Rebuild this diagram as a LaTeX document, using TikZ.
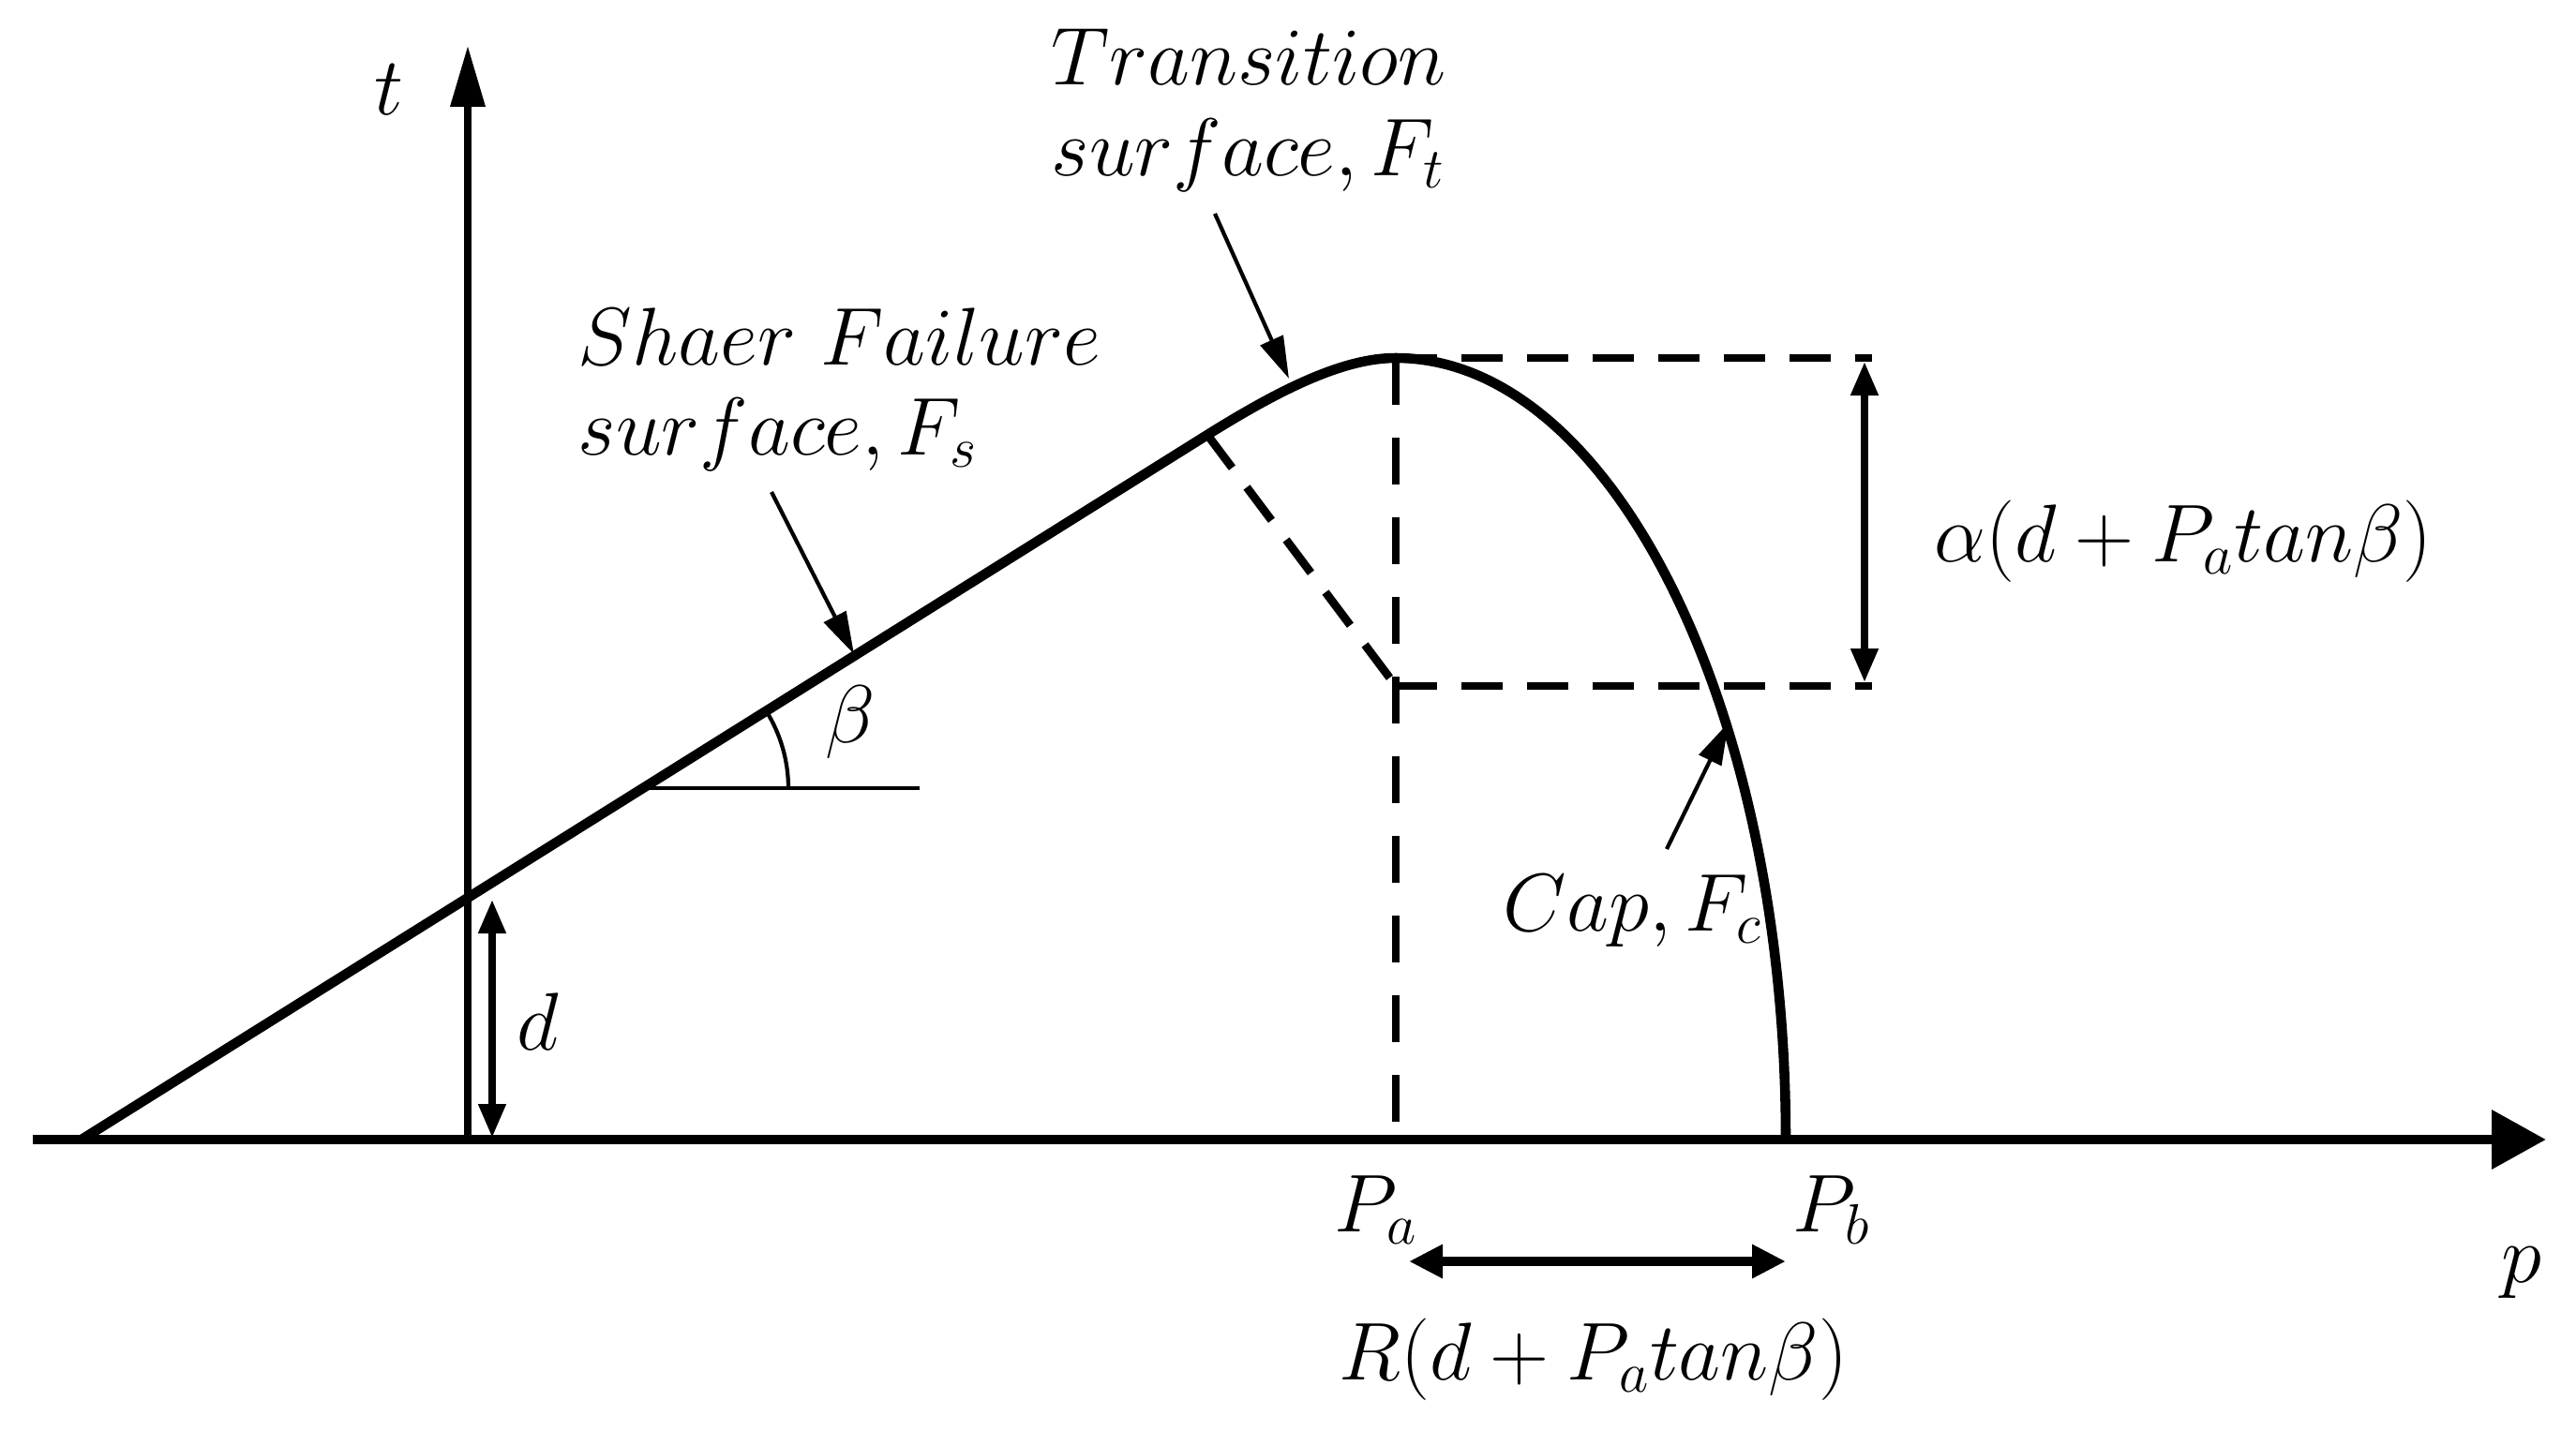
\documentclass[tikz,border=0pt]{standalone}
\usepackage{pgf,tikz}
\usetikzlibrary{arrows.meta}

\begin{document}
\begin{tikzpicture}[line cap=butt,line join=round,>={Triangle[length=3.6mm,width=2.8mm]},
  lbl/.style={font=\fontsize{25}{30}\selectfont,inner sep=0pt},
  thick axis/.style={line width=3pt},
  curve/.style={line width=3pt},
  dash box/.style={line width=2.5pt,dash pattern=on 0.44cm off 0.26cm},
  callout/.style={line width=1.2pt,-{Triangle[length=4.5mm,width=2.6mm]}}]
\useasboundingbox (-4.99,-3.10) rectangle (22.49,12.16);
% axes
\coordinate (O) at (0,0);
\coordinate (pl) at (-4.64,0);
\coordinate (pr) at (22.17,0);
\coordinate (tt) at (0,11.67);
\draw[thick axis,-{Triangle[length=5.8mm,width=6.1mm]}] (pl) -- (pr);
\draw[line width=2pt,-{Triangle[length=6.5mm,width=3.6mm]}] (O) -- (tt);
% yield surfaces
\coordinate (A) at (-4.12,0);
\coordinate (T) at (7.89,7.52);
\coordinate (M) at (9.90,8.34);
\coordinate (Pa) at (9.90,0);
\coordinate (Pb) at (14.06,0);
\coordinate (Q) at (9.90,4.84);
\coordinate (E1) at (14.98,8.34);
\coordinate (E2) at (14.98,4.84);
\draw[curve] (A) -- (T) .. controls (8.69,8.02) and (9.35,8.34) .. (M)
  arc[start angle=90,end angle=0,x radius=4.16,y radius=8.34];
% dashed construction lines
\draw[dash box] (T) -- (Q);
\draw[dash box,dash pattern=on 0.5cm off 0.35cm] (M) -- (Pa);
\draw[dash box] (M) -- (E1);
\draw[dash box] (Q) -- (E2);
% dimensions
\draw[line width=2.2pt,<->] (14.90,8.30) -- (14.90,4.88);
\node[lbl] (alpha) at (18.30,6.38) {$\alpha(d+P_atan\beta)$};
\draw[line width=2.2pt,<->] (0.26,2.56) -- (0.26,0.02);
\node[lbl] (dlab) at (0.75,1.26) {$d$};
\draw[line width=3pt,{Triangle[length=3.6mm,width=3.4mm]}-{Triangle[length=3.6mm,width=3.4mm]}] (10.04,-1.30) -- (14.06,-1.30);
\node[lbl] (Rlab) at (12.01,-2.35) {$R(d+P_atan\beta)$};
% angle beta
\coordinate (B0) at (1.87,3.75);
\coordinate (B1) at (4.82,3.75);
\draw[line width=1.2pt] (B0) -- (B1);
\draw[line width=1.2pt] (B0) ++(1.55,0) arc[start angle=0,end angle=32,radius=1.55];
\node[lbl] (beta) at (4.08,4.45) {$\beta$};
% axis labels
\node[lbl] (tlab) at (-0.84,11.20) {$t$};
\node[lbl] (plab) at (21.91,-1.42) {$p$};
\node[lbl] (Palab) at (9.69,-0.75) {$P_a$};
\node[lbl] (Pblab) at (14.55,-0.75) {$P_b$};
% surface names
\node[lbl,anchor=west] (trans1) at (6.22,11.55) {$Transition$};
\node[lbl,anchor=west] (trans2) at (6.22,10.50) {$surface,F_t$};
\node[lbl,anchor=west] (shear1) at (1.17,8.57) {$Shaer\ Failure$};
\node[lbl,anchor=west] (shear2) at (1.17,7.52) {$surface,F_s$};
\node[lbl,anchor=west] (cap) at (11.04,2.44) {$Cap,F_c$};
\coordinate (ft) at (8.76,8.12);
\coordinate (fs) at (4.12,5.18);
\coordinate (fc) at (13.45,4.45);
\draw[callout] (7.97,9.88) -- (ft);
\draw[callout] (3.24,6.91) -- (fs);
\draw[callout] (12.79,3.10) -- (fc);
\end{tikzpicture}
\end{document}
